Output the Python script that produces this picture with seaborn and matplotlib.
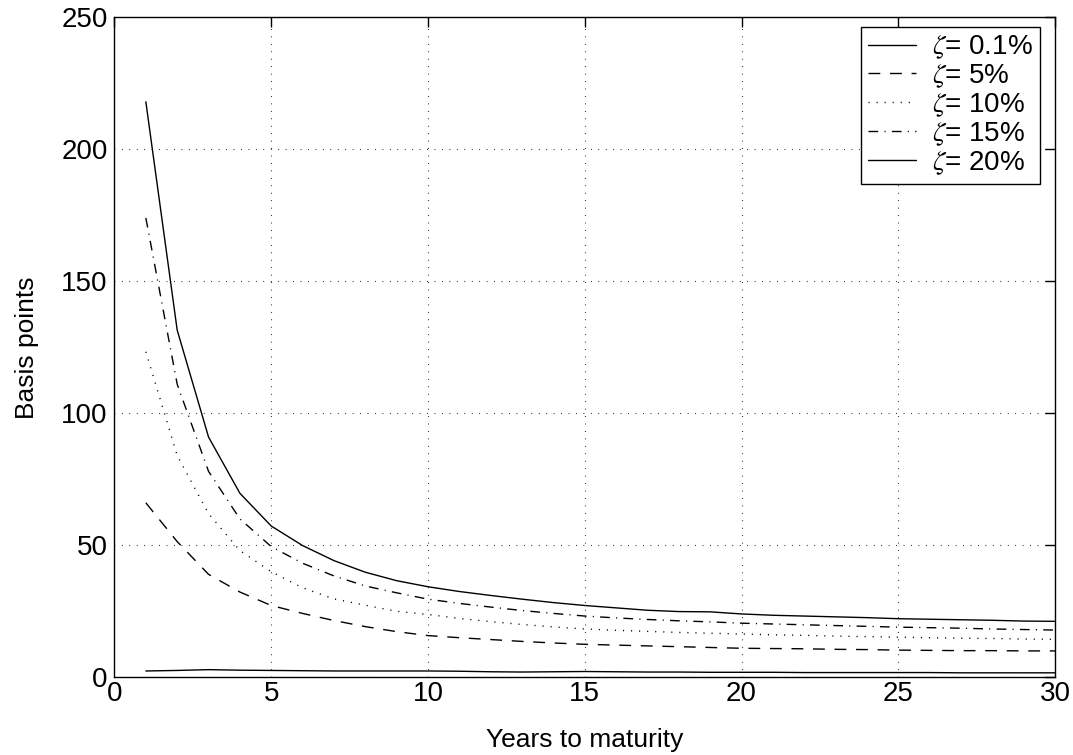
import numpy as np
import pandas as pd
import matplotlib
matplotlib.use('Agg')
import matplotlib.pyplot as plt
import seaborn as sns

sns.set_style('white')
plt.rcParams['font.family'] = ['Liberation Sans', 'DejaVu Sans']
plt.rcParams['mathtext.fontset'] = 'stix'
plt.rcParams['text.color'] = 'black'
plt.rcParams['axes.labelcolor'] = 'black'

years = list(range(1, 31))

z01 = [2.4, 2.6, 2.9, 2.7, 2.6, 2.5, 2.4, 2.4, 2.4, 2.4,
       2.3, 2.1, 2.0, 2.1, 2.2, 2.1, 2.0, 2.0, 1.9, 1.9,
       1.9, 1.8, 1.8, 1.8, 1.8, 1.8, 1.7, 1.7, 1.7, 1.7]
z05 = [66.1, 51.4, 39.0, 32.3, 27.2, 24.2, 21.5, 19.2, 17.3, 15.8,
       15.0, 14.3, 13.6, 13.0, 12.5, 12.2, 11.9, 11.6, 11.3, 11.0,
       10.9, 10.8, 10.6, 10.5, 10.3, 10.2, 10.1, 10.1, 10.0, 10.0]
z10 = [123.3, 84.0, 62.0, 48.0, 40.0, 33.9, 29.7, 27.3, 25.0, 23.8,
       22.3, 21.1, 20.0, 19.1, 18.3, 17.8, 17.4, 17.0, 16.7, 16.4,
       16.1, 15.9, 15.6, 15.4, 15.2, 15.0, 14.8, 14.7, 14.5, 14.4]
z15 = [174.0, 111.0, 78.0, 60.0, 49.5, 43.2, 38.4, 34.6, 32.0, 29.6,
       28.0, 26.6, 25.3, 24.2, 23.2, 22.5, 21.9, 21.4, 21.0, 20.5,
       20.2, 19.9, 19.6, 19.3, 19.0, 18.8, 18.6, 18.3, 18.1, 17.9]
z20 = [218.0, 131.5, 91.0, 69.7, 57.3, 49.9, 44.2, 39.8, 36.6, 34.3,
       32.5, 31.0, 29.6, 28.3, 27.2, 26.3, 25.4, 24.9, 24.8, 24.0,
       23.5, 23.2, 22.9, 22.6, 22.2, 22.0, 21.8, 21.6, 21.3, 21.2]

labels = [r'$\zeta$= 0.1%', r'$\zeta$= 5%', r'$\zeta$= 10%', r'$\zeta$= 15%', r'$\zeta$= 20%']
series = [z01, z05, z10, z15, z20]
dashes = [(None, None), (8.5, 7), (0.8, 5), (7, 4.5, 0.8, 4.5), (None, None)]

fig = plt.figure(figsize=(10.73, 7.55), dpi=100)
ax = fig.add_axes([0.1067, 0.1029, 0.8766, 0.8742])

for lab, vals, d in zip(labels, series, dashes):
    df = pd.DataFrame({'years': years, 'bp': vals})
    sns.lineplot(data=df, x='years', y='bp', ax=ax, color='black', lw=1.0, label=lab)
    if d[0] is not None:
        ax.lines[-1].set_dashes(d)

ax.set_xlim(0, 30)
ax.set_ylim(0, 250)
ax.set_xticks([0, 5, 10, 15, 20, 25, 30])
ax.set_yticks([0, 50, 100, 150, 200, 250])
ax.grid(True, color='black', lw=0.8, linestyle=(0, (0.7, 6)))
ax.tick_params(direction='in', length=7, width=1, top=True, right=True,
               labelsize=20, colors='black')
ax.tick_params(axis='x', pad=3)
ax.tick_params(axis='y', pad=5)
for s in ax.spines.values():
    s.set_color('black')
    s.set_linewidth(1.0)
    s.set_visible(True)

ax.set_xlabel('Years to maturity', fontsize=19, labelpad=15)
ax.set_ylabel('Basis points', fontsize=19, labelpad=16)

leg = ax.legend(loc='upper right', bbox_to_anchor=(0.984, 0.986), borderaxespad=0,
                fontsize=20, handlelength=1.7, fancybox=False, frameon=True,
                edgecolor='black', framealpha=1, labelspacing=0.05,
                borderpad=0.25, handletextpad=0.6)
leg.get_frame().set_linewidth(1.0)

fig.savefig('out.png', dpi=100)
